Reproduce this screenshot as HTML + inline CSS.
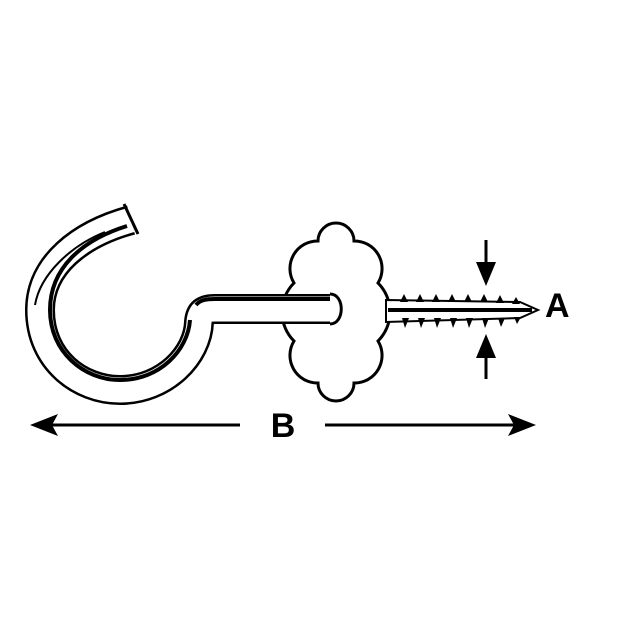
<!DOCTYPE html>
<html><head><style>body{margin:0;background:#fff}svg{display:block}</style></head><body>
<svg width="640" height="640" viewBox="0 0 640 640" xmlns="http://www.w3.org/2000/svg">
<rect width="640" height="640" fill="#fff"/>
<!-- rosette -->
<path d="M318 241 A18 18 0 0 1 354 241 A27.6 27.6 0 0 1 378 283 A41 41 0 0 1 378 341 A27.6 27.6 0 0 1 354 383 A18 18 0 0 1 318 383 A27.6 27.6 0 0 1 294 341 A41 41 0 0 1 294 283 A27.6 27.6 0 0 1 318 241 Z" fill="#fff" stroke="#000" stroke-width="3"/>
<!-- hook -->
<g fill="none">
<path d="M131 220 C 80 234, 40 265, 40 310 C 40 360, 80 390, 120 390 C 165 390, 198 355, 199 322 C 200 311, 205 309, 215 309 L 330 309" stroke="#000" stroke-width="30"/>
<path d="M131 220 C 80 234, 40 265, 40 310 C 40 360, 80 390, 120 390 C 165 390, 198 355, 199 322 C 200 311, 205 309, 215 309 L 330 309" stroke="#fff" stroke-width="25"/>
<path d="M127 226 C 82 240, 50 268, 50 310 C 50 352, 84 380, 120 380 C 160 380, 188 350, 190 320" stroke="#000" stroke-width="4"/>
<path d="M196 305 C 200 300, 206 299, 215 299 L 332 299" stroke="#000" stroke-width="4"/>
<path d="M105 232 C 70 246, 40 275, 35 305" stroke="#000" stroke-width="2"/>
</g>
<path d="M124 204 L 138 234" stroke="#000" stroke-width="3" fill="none"/>
<path d="M330 294 C345 294 345 324 330 324" fill="#fff" stroke="#000" stroke-width="3"/>
<!-- screw -->
<path d="M386 300 L520 302 L538 310 L520 318 L386 322 Z" fill="#fff" stroke="#000" stroke-width="2"/>
<line x1="388" y1="310" x2="532" y2="310" stroke="#000" stroke-width="4"/>
<g fill="#000">
<path d="M400 302 l4 -8 l4 8z M416 302 l4 -8 l4 8z M432 302 l4 -8 l4 8z M448 302 l4 -8 l4 8z M464 302 l4 -8 l4 8z M480 302 l4 -8 l4 8z M496 303 l4 -8 l4 8z M512 304 l4 -7 l4 7z"/>
<path d="M402 318 l3 10 l4 -10z M418 318 l3 10 l4 -10z M434 318 l3 10 l4 -10z M450 318 l3 10 l4 -10z M466 318 l3 10 l4 -10z M482 318 l3 10 l4 -10z M498 318 l3 9 l4 -9z M514 317 l3 7 l4 -7z"/>
</g>
<!-- A arrows -->
<line x1="486" y1="240" x2="486" y2="270" stroke="#000" stroke-width="3"/>
<path d="M476 262 L496 262 L486 286 Z" fill="#000"/>
<line x1="486" y1="350" x2="486" y2="379" stroke="#000" stroke-width="3"/>
<path d="M476 358 L496 358 L486 334 Z" fill="#000"/>
<text x="545" y="317" font-family="Liberation Sans, sans-serif" font-weight="bold" font-size="34">A</text>
<!-- B arrow -->
<line x1="45" y1="425" x2="240" y2="425" stroke="#000" stroke-width="3"/>
<line x1="325" y1="425" x2="520" y2="425" stroke="#000" stroke-width="3"/>
<path d="M30 425 L58 414 L52 425 L58 436 Z" fill="#000"/>
<path d="M536 425 L508 414 L514 425 L508 436 Z" fill="#000"/>
<text x="283" y="437" text-anchor="middle" font-family="Liberation Sans, sans-serif" font-weight="bold" font-size="34">B</text>
</svg>
</body></html>
